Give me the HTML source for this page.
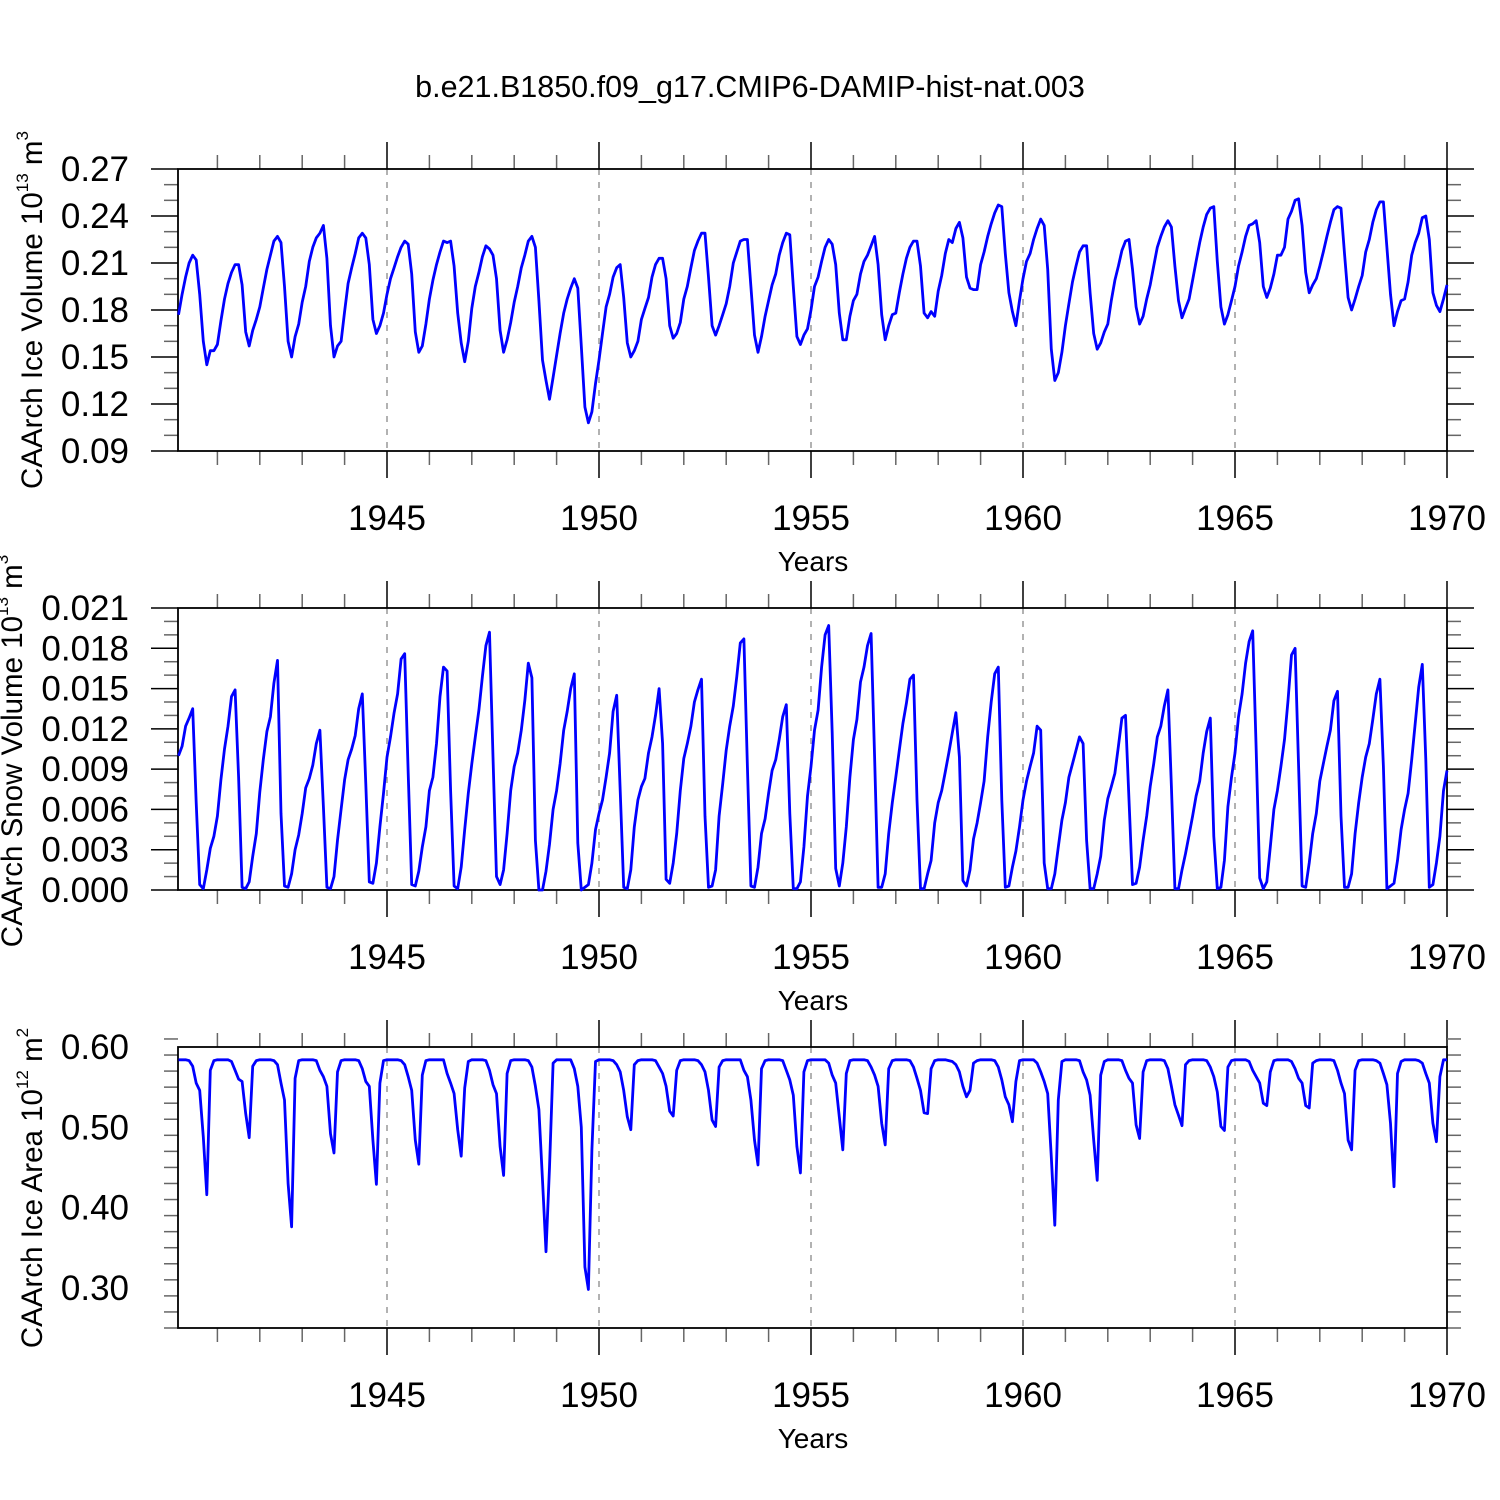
<!DOCTYPE html>
<html>
<head>
<meta charset="utf-8">
<style>
  html,body{margin:0;padding:0;background:#fff;}
  svg{display:block;font-family:"Liberation Sans",Arial,sans-serif;}
</style>
</head>
<body>
<svg id="chart" width="1500" height="1500" viewBox="0 0 1500 1500" xmlns="http://www.w3.org/2000/svg">
  <rect x="0" y="0" width="1500" height="1500" fill="#fff"/>
  <text x="750" y="97" font-size="30.5" text-anchor="middle" fill="#000">b.e21.B1850.f09_g17.CMIP6-DAMIP-hist-nat.003</text>
  <text transform="translate(42,310) rotate(-90)" font-size="29.5" text-anchor="middle" fill="#000">CAArch Ice Volume 10<tspan font-size="17" dy="-14">13</tspan><tspan dy="14"> m</tspan><tspan font-size="17" dy="-14">3</tspan></text>
  <text transform="translate(22,751) rotate(-90)" font-size="29.5" text-anchor="middle" fill="#000">CAArch Snow Volume 10<tspan font-size="17" dy="-14">13</tspan><tspan dy="14"> m</tspan><tspan font-size="17" dy="-14">3</tspan></text>
  <text transform="translate(42,1188) rotate(-90)" font-size="29.5" text-anchor="middle" fill="#000">CAArch Ice Area 10<tspan font-size="17" dy="-14">12</tspan><tspan dy="14"> m</tspan><tspan font-size="17" dy="-14">2</tspan></text>
  <g id="plots"></g>
</svg>
<script>
// ---- data ----
const xTickYears = [1945, 1950, 1955, 1960, 1965, 1970];
const xTickLabels = ["1945", "1950", "1955", "1960", "1965", "1970"];
const startYear = 1940;

const iceVolume = [
.177,.19,.201,.21,.215,.212,.19,.16,.145,.154,.154,.158,
.173,.187,.197,.204,.209,.209,.196,.166,.157,.167,.174,.182,
.194,.206,.215,.224,.227,.223,.195,.16,.15,.163,.171,.185,
.195,.211,.22,.226,.229,.234,.213,.17,.15,.157,.16,.179,
.197,.207,.216,.226,.229,.226,.209,.174,.165,.17,.178,.19,
.2,.207,.214,.22,.224,.222,.203,.166,.153,.157,.171,.187,
.199,.209,.217,.224,.223,.224,.208,.178,.159,.147,.16,.181,
.195,.204,.214,.221,.219,.215,.2,.167,.153,.161,.172,.185,
.195,.207,.215,.224,.227,.22,.186,.148,.135,.123,.137,.151,
.165,.178,.187,.194,.2,.194,.157,.118,.108,.115,.133,.148,
.165,.182,.19,.201,.207,.209,.188,.159,.15,.154,.16,.174,
.181,.188,.201,.209,.213,.213,.2,.17,.162,.165,.172,.187,
.195,.207,.218,.224,.229,.229,.201,.17,.164,.17,.177,.184,
.195,.21,.217,.224,.225,.225,.195,.164,.153,.163,.176,.186,
.196,.203,.215,.223,.229,.228,.195,.163,.158,.164,.168,.18,
.195,.201,.211,.22,.225,.222,.209,.178,.161,.161,.176,.186,
.19,.203,.211,.215,.221,.227,.209,.177,.161,.17,.177,.178,
.191,.203,.213,.22,.224,.224,.208,.178,.175,.179,.176,.192,
.202,.216,.225,.223,.232,.236,.226,.201,.194,.193,.193,.209,
.217,.227,.235,.242,.247,.246,.216,.191,.179,.17,.186,.2,
.211,.216,.225,.232,.238,.234,.206,.155,.135,.14,.153,.17,
.184,.198,.208,.217,.221,.221,.191,.165,.155,.159,.166,.171,
.186,.199,.208,.218,.224,.225,.206,.182,.171,.176,.187,.196,
.208,.22,.227,.233,.237,.233,.208,.186,.175,.181,.187,.199,
.211,.223,.233,.241,.245,.246,.211,.182,.171,.177,.186,.195,
.208,.217,.227,.234,.235,.237,.223,.195,.188,.194,.203,.215,
.215,.22,.238,.243,.25,.251,.234,.204,.191,.196,.2,.208,
.217,.227,.236,.244,.246,.245,.216,.188,.18,.187,.195,.202,
.217,.225,.236,.244,.249,.249,.22,.19,.17,.179,.186,.187,
.198,.215,.223,.229,.239,.24,.225,.191,.183,.179,.187,.196
];

const snowVolume = [
.0100,.0107,.0122,.0128,.0135,.0065,.0004,.0001,.0015,.0031,.004,.0055,
.0082,.0105,.0122,.0144,.0149,.0084,.0002,.0001,.0006,.0025,.0042,.0073,
.0097,.0118,.0129,.0154,.0171,.0057,.0003,.0002,.0012,.003,.0041,.0057,
.0076,.0083,.0093,.0109,.0119,.0062,.0002,.0001,.001,.0037,.006,.0082,
.0097,.0105,.0115,.0135,.0146,.0079,.0006,.0005,.002,.0047,.0072,.0099,
.0114,.0132,.0146,.0172,.0176,.0087,.0004,.0003,.0014,.0032,.0047,.0074,
.0084,.0109,.0144,.0166,.0163,.0074,.0003,.0001,.0017,.0045,.0072,.0094,
.0114,.0134,.0159,.0182,.0192,.0099,.001,.0004,.0015,.0042,.0074,.0092,
.0102,.0119,.0141,.0169,.0158,.0037,0,0,.0014,.0034,.006,.0074,
.0094,.0119,.0133,.015,.0161,.0035,0,.0002,.0004,.002,.0045,.0057,
.0067,.0084,.0102,.0133,.0145,.0074,.0002,.0001,.0015,.0047,.0067,.0077,
.0083,.0102,.0114,.013,.015,.0109,.0008,.0005,.002,.0042,.0074,.0098,
.0109,.0122,.014,.0149,.0157,.0055,.0002,.0003,.0015,.0055,.0079,.0104,
.0122,.0137,.0159,.0184,.0187,.0092,.0003,.0002,.0017,.0042,.0053,.0072,
.0089,.0097,.0112,.0129,.0138,.0057,.0001,.0001,.0006,.0032,.007,.0092,
.0119,.0134,.0166,.019,.0197,.0117,.0016,.0003,.002,.0047,.0084,.0112,
.0127,.0155,.0166,.0182,.0191,.0099,.0002,.0002,.0012,.0042,.0065,.0084,
.0104,.0124,.0139,.0157,.016,.0067,.0001,.0001,.0012,.0022,.005,.0065,
.0074,.0088,.0102,.0117,.0132,.0099,.0007,.0003,.0015,.0038,.005,.0065,
.0081,.0114,.014,.0161,.0166,.0067,.0002,.0003,.0017,.0029,.0047,.0067,
.0081,.0092,.0102,.0122,.0119,.002,.0001,.0001,.0012,.0032,.0052,.0065,
.0084,.0094,.0104,.0114,.0109,.0037,.0001,.0001,.0012,.0025,.0052,.0068,
.0077,.0087,.0107,.0128,.013,.0067,.0004,.0005,.0017,.0037,.0055,.0077,
.0094,.0114,.0122,.0137,.0149,.0077,.0001,.0001,.0015,.0027,.0041,.0055,
.007,.0081,.0102,.0118,.0128,.004,.0001,.0002,.0022,.0062,.0084,.0102,
.0129,.0146,.0169,.0185,.0193,.0104,.0009,.0001,.0006,.0032,.006,.0074,
.0092,.0112,.0141,.0175,.018,.0092,.0003,.0002,.002,.0042,.0057,.0081,
.0094,.0107,.0119,.0141,.0148,.0055,.0002,.0002,.0012,.0042,.0065,.0084,
.0099,.0109,.0127,.0146,.0157,.0092,.0001,.0003,.0005,.0022,.0045,.006,
.0072,.0097,.0124,.0151,.0168,.0097,.0002,.0004,.002,.004,.0074,.0089
];

const iceArea = [
.584,.584,.584,.583,.576,.555,.546,.488,.416,.571,.583,.584,
.584,.584,.584,.582,.571,.56,.557,.517,.487,.576,.583,.584,
.584,.584,.584,.583,.578,.555,.534,.43,.376,.561,.583,.584,
.584,.584,.584,.583,.571,.563,.551,.492,.468,.569,.583,.584,
.584,.584,.584,.583,.573,.557,.551,.484,.429,.555,.583,.584,
.584,.584,.584,.583,.578,.563,.546,.484,.454,.565,.583,.584,
.584,.584,.584,.584,.567,.555,.542,.497,.464,.549,.582,.584,
.584,.584,.584,.583,.571,.553,.542,.476,.44,.567,.583,.584,
.584,.584,.584,.583,.575,.551,.522,.434,.345,.45,.58,.584,
.584,.584,.584,.584,.573,.551,.5,.326,.298,.472,.582,.584,
.584,.584,.584,.583,.578,.569,.546,.513,.497,.578,.583,.584,
.584,.584,.584,.583,.575,.567,.551,.52,.514,.571,.583,.584,
.584,.584,.584,.583,.578,.569,.546,.509,.501,.575,.583,.584,
.584,.584,.584,.584,.571,.563,.534,.484,.453,.573,.583,.584,
.584,.584,.584,.583,.571,.559,.54,.476,.443,.569,.583,.584,
.584,.584,.584,.584,.58,.565,.555,.513,.472,.567,.583,.584,
.584,.584,.584,.583,.575,.565,.551,.505,.478,.573,.583,.584,
.584,.584,.584,.583,.575,.561,.546,.518,.517,.573,.583,.584,
.584,.584,.583,.582,.578,.569,.551,.538,.546,.58,.583,.584,
.584,.584,.584,.583,.575,.559,.538,.528,.507,.557,.583,.584,
.584,.584,.584,.58,.569,.557,.542,.463,.378,.534,.582,.584,
.584,.584,.584,.583,.569,.559,.54,.484,.434,.565,.582,.584,
.584,.584,.584,.583,.571,.561,.555,.503,.486,.569,.583,.584,
.584,.584,.584,.583,.573,.551,.528,.515,.502,.578,.583,.584,
.584,.584,.584,.583,.575,.563,.544,.501,.496,.575,.583,.584,
.584,.584,.584,.582,.571,.563,.555,.53,.527,.569,.583,.584,
.584,.584,.584,.582,.573,.561,.555,.527,.524,.58,.583,.584,
.584,.584,.584,.583,.571,.555,.542,.484,.472,.571,.583,.584,
.584,.584,.584,.583,.58,.567,.553,.505,.426,.567,.582,.584,
.584,.584,.584,.583,.58,.567,.555,.505,.482,.563,.584,.584
];

const iceVolumeTickValues = [0.09, 0.12, 0.15, 0.18, 0.21, 0.24, 0.27];
const iceVolumeTickLabels = ["0.09", "0.12", "0.15", "0.18", "0.21", "0.24", "0.27"];
const snowVolumeTickValues = [0, 0.003, 0.006, 0.009, 0.012, 0.015, 0.018, 0.021];
const snowVolumeTickLabels = ["0.000", "0.003", "0.006", "0.009", "0.012", "0.015", "0.018", "0.021"];
const iceAreaTickValues = [0.3, 0.4, 0.5, 0.6];
const iceAreaTickLabels = ["0.30", "0.40", "0.50", "0.60"];

// ---- layout ----
const NS = "http://www.w3.org/2000/svg";
const X0 = 178, X1 = 1447;
function xScale(t) { return 387 + (t - 1945) * 42.4; }

const panels = [
  {key: "ice-volume", top: 169, bottom: 451, ymin: 0.09, ymax: 0.27, minor: 0.01, data: iceVolume, tv: iceVolumeTickValues, tl: iceVolumeTickLabels},
  {key: "snow-volume", top: 608, bottom: 890, ymin: 0, ymax: 0.021, minor: 0.001, data: snowVolume, tv: snowVolumeTickValues, tl: snowVolumeTickLabels},
  {key: "ice-area", top: 1047, bottom: 1328, ymin: 0.25, ymax: 0.60, minor: 0.02, data: iceArea, tv: iceAreaTickValues, tl: iceAreaTickLabels}
];

const root = document.getElementById("plots");
function mk(tag, attrs, parent) {
  const e = document.createElementNS(NS, tag);
  for (const k in attrs) e.setAttribute(k, attrs[k]);
  (parent || root).appendChild(e);
  return e;
}

panels.forEach(function (p) {
  const g = mk("g", {});
  
  
  const yScale = function (v) { return p.bottom - (v - p.ymin) / (p.ymax - p.ymin) * (p.bottom - p.top); };

  xTickYears.forEach(function (yr) {
    if (yr >= 1970) return;
    const x = xScale(yr);
    const l = mk("line", {x1: x, x2: x, y1: p.top, y2: p.bottom, stroke: "#888", "stroke-width": 1.3, "stroke-dasharray": "6,7"}, g);
    
    
  });

  for (let yr = 1941; yr <= 1969; yr++) {
    const x = xScale(yr);
    const isMajor = xTickYears.indexOf(yr) >= 0;
    const len = isMajor ? 27 : 14;
    mk("line", {x1: x, x2: x, y1: p.top, y2: p.top - len, stroke: isMajor ? "#000" : "#666", "stroke-width": 1.5}, g);
    mk("line", {x1: x, x2: x, y1: p.bottom, y2: p.bottom + len, stroke: isMajor ? "#000" : "#666", "stroke-width": 1.5}, g);
  }
  mk("line", {x1: X1, x2: X1, y1: p.top, y2: p.top - 27, stroke: "#000", "stroke-width": 1.5}, g);
  mk("line", {x1: X1, x2: X1, y1: p.bottom, y2: p.bottom + 27, stroke: "#000", "stroke-width": 1.5}, g);

  xTickYears.forEach(function (yr, i) {
    const t = mk("text", {x: xScale(yr), y: p.bottom + 79, "font-size": 35, "text-anchor": "middle", fill: "#000"}, g);
    t.textContent = xTickLabels[i];
    
    
  });
  const xt = mk("text", {x: 813, y: p.bottom + 120, "font-size": 28, "text-anchor": "middle", fill: "#000"}, g);
  xt.textContent = "Years";
  
  

  const nMinor = Math.round((p.ymax - p.ymin) / p.minor);
  for (let k = 0; k <= nMinor; k++) {
    const v = p.ymin + k * p.minor;
    const y = yScale(v);
    const isMajor = p.tv.some(function (tv) { return Math.abs(tv - v) < p.minor / 10; });
    const len = isMajor ? 27 : 14;
    const col = isMajor ? "#000" : "#666";
    mk("line", {x1: X0, x2: X0 - len, y1: y, y2: y, stroke: col, "stroke-width": 1.5}, g);
    mk("line", {x1: X1, x2: X1 + len, y1: y, y2: y, stroke: col, "stroke-width": 1.5}, g);
  }
  p.tv.forEach(function (v, i) {
    const t = mk("text", {x: 129, y: yScale(v) + 12, "font-size": 35, "text-anchor": "end", fill: "#000"}, g);
    t.textContent = p.tl[i];
    
    
  });

  const fr = mk("rect", {x: X0, y: p.top, width: X1 - X0, height: p.bottom - p.top, fill: "none", stroke: "#000", "stroke-width": 1.8}, g);
  
  

  const pts = p.data.map(function (v, i) {
    const t = startYear + (i + 1) / 12;
    return xScale(t).toFixed(1) + "," + yScale(v).toFixed(1);
  });
  const line = mk("polyline", {points: pts.join(" "), fill: "none", stroke: "#0000ff", "stroke-width": 2.8, "stroke-linejoin": "round"}, g);
  
  
});
</script>
</body>
</html>
